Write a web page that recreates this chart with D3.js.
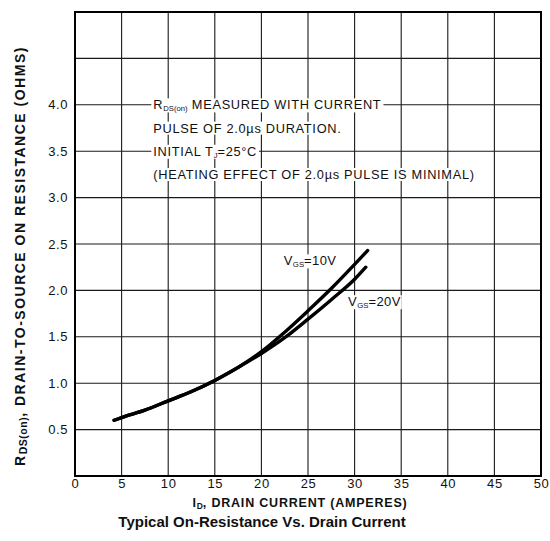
<!DOCTYPE html>
<html>
<head>
<meta charset="utf-8">
<script src="https://cdn.jsdelivr.net/npm/d3@7"></script>
<style>
	body { margin: 0; background: #fff; }
	svg text { font-family: "Liberation Sans", Arial, sans-serif; fill: #111; }
</style>
</head>
<body>
<div id="chart"></div>
<script>
// On-resistance vs drain current
///

const currentTicks = [0, 5, 10, 15, 20, 25, 30, 35, 40, 45, 50];
const resistanceTicks = [0.5, 1.0, 1.5, 2.0, 2.5, 3.0, 3.5, 4.0];
const gridRes = [0.5, 1.0, 1.5, 2.0, 2.5, 3.0, 3.5, 4.0, 4.5];

// VGS = 10V
const current10 = [4.2, 5, 7.5, 10, 12.5, 15, 17.5, 20, 22.5, 25, 27.5, 30, 31.4];
const res10 = [0.60, 0.63, 0.71, 0.81, 0.91, 1.03, 1.17, 1.34, 1.55, 1.78, 2.02, 2.28, 2.43];
// VGS = 20V
const current20 = [4.2, 5, 7.5, 10, 12.5, 15, 17.5, 20, 22.5, 25, 27.5, 30, 31.2];
const res20 = [0.60, 0.63, 0.71, 0.81, 0.91, 1.03, 1.17, 1.32, 1.49, 1.69, 1.90, 2.12, 2.25];

const notes = [
	{ y: 4.0, parts: [['R', ''], ['DS(on)', 'sub'], [' MEASURED WITH CURRENT', '']] },
	{ y: 3.75, parts: [['PULSE OF 2.0\u00b5s DURATION.', '']] },
	{ y: 3.5, parts: [['INITIAL T', ''], ['J', 'sub'], ['=25\u00b0C', '']] },
	{ y: 3.25, parts: [['(HEATING  EFFECT OF 2.0\u00b5s PULSE IS MINIMAL)', '']] }
];

const w = 550, h = 541;
const m = { left: 75, right: 9, top: 12, bottom: 65 };

let svg = d3.select('#chart').append('svg')
	.attr('width', w)
	.attr('height', h);

const x = d3.scaleLinear().domain([0, 50]).range([m.left, w - m.right]);
const y = d3.scaleLinear().domain([0, 5]).range([h - m.bottom, m.top]);

// grid
let grid = svg.append('g').attr('stroke', '#1a1a1a').attr('stroke-width', 1.1);
grid.selectAll('.vline')
	.data(currentTicks.slice(1, -1))
	.enter().append('line')
	.attr('x1', d => x(d)).attr('x2', d => x(d))
	.attr('y1', y(0)).attr('y2', y(5));
grid.selectAll('.hline')
	.data(gridRes)
	.enter().append('line')
	.attr('x1', x(0)).attr('x2', x(50))
	.attr('y1', d => y(d)).attr('y2', d => y(d));

// frame
svg.append('rect')
	.attr('x', x(0)).attr('y', y(5))
	.attr('width', x(50) - x(0)).attr('height', y(0) - y(5))
	.attr('fill', 'none').attr('stroke', '#000').attr('stroke-width', 2);

// axes, ticks drawn as labels only
let xAxis = svg.append('g')
	.attr('transform', 'translate(0,' + (y(0) + 2) + ')')
	.call(d3.axisBottom(x).tickValues(currentTicks).tickSize(0).tickPadding(1).tickFormat(d3.format('d')));
let yAxis = svg.append('g')
	.attr('transform', 'translate(' + (x(0) - 4) + ',0)')
	.call(d3.axisLeft(y).tickValues(resistanceTicks).tickSize(0).tickPadding(3).tickFormat(d3.format('.1f')));
[xAxis, yAxis].forEach(a => {
	a.select('.domain').remove();
	a.selectAll('text').attr('font-size', 13).attr('letter-spacing', 0.6)
		.style('font-family', '"Liberation Sans", Arial, sans-serif').attr('fill', '#111');
});

// curves
const line = d3.line().x(d => x(d[0])).y(d => y(d[1])).curve(d3.curveMonotoneX);
[[current10, res10], [current20, res20]].forEach(s => {
	svg.append('path')
		.datum(d3.zip(s[0], s[1]))
		.attr('d', line)
		.attr('fill', 'none')
		.attr('stroke', '#000')
		.attr('stroke-width', 3.4)
		.attr('stroke-linecap', 'round');
});

// annotation block
function richText(g, parts, size, spacing) {
	let t = g.append('text').attr('font-size', size).attr('letter-spacing', spacing);
	parts.forEach(p => {
		let ts = t.append('tspan').text(p[0]);
		if (p[1] == 'sub')
			ts.attr('font-size', size * 0.6).attr('baseline-shift', '-25%').attr('letter-spacing', 0);
	});
	return t;
}

notes.forEach(n => {
	let g = svg.append('g');
	let t = richText(g, n.parts, 12.8, 0.7)
		.attr('x', x(8.4))
		.attr('y', y(n.y))
		.attr('dy', '0.36em');
	let b = t.node().getBBox();
	g.insert('rect', 'text')
		.attr('x', b.x - 2).attr('y', b.y + 1)
		.attr('width', b.width + 4).attr('height', b.height - 2)
		.attr('fill', '#fff');
});

// curve labels
const labels = [
	{ at: [22.4, 2.32], parts: [['V', ''], ['GS', 'sub'], ['=10V', '']] },
	{ at: [29.3, 1.88], parts: [['V', ''], ['GS', 'sub'], ['=20V', '']] }
];
labels.forEach(l => {
	let g = svg.append('g');
	let t = richText(g, l.parts, 13, 0.4)
		.attr('x', x(l.at[0]))
		.attr('y', y(l.at[1]))
		.attr('dy', '0.36em');
	let b = t.node().getBBox();
	g.insert('rect', 'text')
		.attr('x', b.x - 1).attr('y', b.y + 1)
		.attr('width', b.width + 2).attr('height', b.height - 2)
		.attr('fill', '#fff');
});

// axis titles
let xt = svg.append('text')
	.attr('x', 300).attr('y', 507)
	.attr('text-anchor', 'middle')
	.attr('font-size', 12.5).attr('font-weight', 'bold').attr('letter-spacing', 0.8);
xt.append('tspan').text('I');
xt.append('tspan').text('D').attr('font-size', 8.5).attr('baseline-shift', '-25%').attr('letter-spacing', 0);
xt.append('tspan').text(', DRAIN CURRENT (AMPERES)');

let yt = svg.append('text')
	.attr('transform', 'translate(25,256) rotate(-90)')
	.attr('text-anchor', 'middle')
	.attr('font-size', 14).attr('font-weight', 'bold').attr('letter-spacing', 1.5);
yt.append('tspan').text('R');
yt.append('tspan').text('DS(on)').attr('font-size', 10.5).attr('baseline-shift', '-20%').attr('letter-spacing', 0.5);
yt.append('tspan').text(',  DRAIN-TO-SOURCE  ON RESISTANCE (OHMS)');

svg.append('text')
	.attr('x', 262).attr('y', 527)
	.attr('text-anchor', 'middle')
	.attr('font-size', 15).attr('font-weight', 'bold')
	.text('Typical On-Resistance Vs. Drain Current');
</script>
</body>
</html>
